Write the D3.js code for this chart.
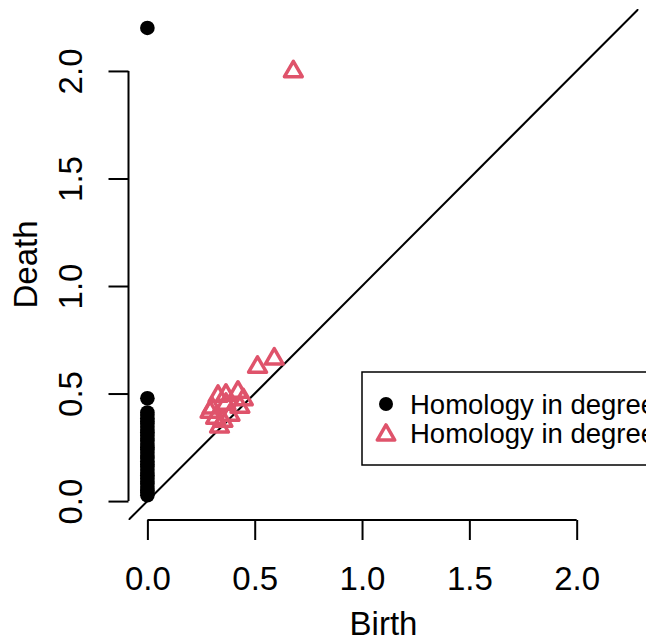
<!DOCTYPE html>
<html>
<head>
<meta charset="utf-8">
<script src="https://cdn.jsdelivr.net/npm/d3@7"></script>
<style>
  body { margin: 0; background: #fff; }
  svg { display: block; font-family: "Liberation Sans", Arial, sans-serif; }
</style>
</head>
<body>
<div id="vis"></div>
<script>
// Persistence diagram values
var dim0Birth = [0, 0, 0, 0, 0, 0, 0, 0, 0, 0, 0, 0, 0, 0, 0, 0,
                 0, 0, 0, 0, 0, 0, 0, 0, 0, 0, 0, 0, 0, 0, 0, 0];
var dim0Death = [0.027, 0.04, 0.05, 0.065, 0.08, 0.09, 0.105, 0.12, 0.13, 0.145,
                 0.16, 0.17, 0.185, 0.2, 0.21, 0.225, 0.24, 0.25, 0.265, 0.28,
                 0.29, 0.305, 0.32, 0.33, 0.345, 0.36, 0.37, 0.385, 0.40, 0.412,
                 0.478, 2.2];
var dim1Birth = [0.329, 0.422, 0.301, 0.366, 0.431, 0.385, 0.336, 0.292, 0.366, 0.447, 0.318,
                 0.352, 0.513, 0.591, 0.680];
var dim1Death = [0.488, 0.507, 0.433, 0.451, 0.437, 0.400, 0.345, 0.414, 0.493, 0.472, 0.386,
                 0.372, 0.623, 0.661, 1.997];

var ticks = [0, 0.5, 1, 1.5, 2];
var legendLabels = ["Homology in degree 0", "Homology in degree 1"];
var lim = [-0.088, 2.288];

var width = 646;
var height = 641;
var plot = { left: 128.5, right: 638.5, top: 9, bottom: 520 };
var red = "#DF536B";
var fontSize = 33;

var x = d3.scaleLinear().domain(lim).range([plot.left, plot.right]);
var y = d3.scaleLinear().domain(lim).range([plot.bottom, plot.top]);

var svg = d3.select("#vis").append("svg")
  .attr("width", width)
  .attr("height", height);

svg.append("defs").append("clipPath").attr("id", "clip")
  .append("rect")
  .attr("x", plot.left).attr("y", plot.top)
  .attr("width", plot.right - plot.left)
  .attr("height", plot.bottom - plot.top);

// triangle like R pch 2, centred on its centroid
function triangle(r) {
  var a = r * Math.sqrt(3) / 2;
  return "M0," + (-r) + "L" + a + "," + (r / 2) + "L" + (-a) + "," + (r / 2) + "Z";
}

// diagonal
svg.append("line")
  .attr("clip-path", "url(#clip)")
  .attr("x1", x(lim[0])).attr("y1", y(lim[0]))
  .attr("x2", x(lim[1])).attr("y2", y(lim[1]))
  .attr("stroke", "#000")
  .attr("stroke-width", 2);

// axes
var xAxis = svg.append("g")
  .attr("transform", "translate(0," + plot.bottom + ")")
  .call(d3.axisBottom(x).tickValues(ticks).tickSize(20).tickPadding(0).tickFormat(d3.format(".1f")));
var yAxis = svg.append("g")
  .attr("transform", "translate(" + plot.left + ",0)")
  .call(d3.axisLeft(y).tickValues(ticks).tickSize(20).tickPadding(0).tickFormat(d3.format(".1f")));

[xAxis, yAxis].forEach(function (g) {
  g.select(".domain").attr("stroke", "#000").attr("stroke-width", 2);
  g.selectAll(".tick line").attr("stroke", "#000").attr("stroke-width", 2);
  g.selectAll(".tick text").attr("fill", "#000").style("font-size", fontSize + "px");
});
// R style: axis line only between first and last tick
xAxis.select(".domain").attr("d", "M" + x(0) + ",0H" + x(2));
yAxis.select(".domain").attr("d", "M0," + y(0) + "V" + y(2));

xAxis.selectAll(".tick text").attr("y", 70).attr("dy", null);
yAxis.selectAll(".tick text")
  .attr("x", null).attr("dy", null)
  .attr("text-anchor", "middle")
  .attr("transform", "translate(-47,0) rotate(-90)");

// axis titles
svg.append("text")
  .attr("x", (plot.left + plot.right) / 2)
  .attr("y", 635)
  .attr("text-anchor", "middle")
  .style("font-size", fontSize + "px")
  .text("Birth");
svg.append("text")
  .attr("transform", "translate(37," + ((plot.top + plot.bottom) / 2) + ") rotate(-90)")
  .attr("text-anchor", "middle")
  .style("font-size", fontSize + "px")
  .text("Death");

// points
var pts = svg.append("g").attr("clip-path", "url(#clip)");
pts.selectAll("circle")
  .data(dim0Death)
  .enter().append("circle")
  .attr("cx", function (d, i) { return x(dim0Birth[i]); })
  .attr("cy", function (d) { return y(d); })
  .attr("r", 7.3)
  .attr("fill", "#000");

pts.selectAll("path")
  .data(dim1Death)
  .enter().append("path")
  .attr("d", triangle(10.3))
  .attr("transform", function (d, i) { return "translate(" + x(dim1Birth[i]) + "," + y(d) + ")"; })
  .attr("fill", "none")
  .attr("stroke", red)
  .attr("stroke-width", 3.5)
  .attr("stroke-linejoin", "round");

// legend (runs off the right edge, as in the original)
var legend = svg.append("g");
legend.append("rect")
  .attr("x", 362).attr("y", 372)
  .attr("width", 400).attr("height", 93)
  .attr("fill", "#fff")
  .attr("stroke", "#000")
  .attr("stroke-width", 1.5);
legend.append("circle")
  .attr("cx", 386).attr("cy", 404).attr("r", 7)
  .attr("fill", "#000");
legend.append("path")
  .attr("d", triangle(10.1))
  .attr("transform", "translate(386,435)")
  .attr("fill", "none")
  .attr("stroke", red)
  .attr("stroke-width", 3.5)
  .attr("stroke-linejoin", "round");
legend.selectAll("text.lab")
  .data(legendLabels)
  .enter().append("text")
  .attr("class", "lab")
  .attr("x", 410)
  .attr("y", function (d, i) { return 414 + i * 29; })
  .style("font-size", "27.5px")
  .text(function (d) { return d; });
</script>
</body>
</html>
